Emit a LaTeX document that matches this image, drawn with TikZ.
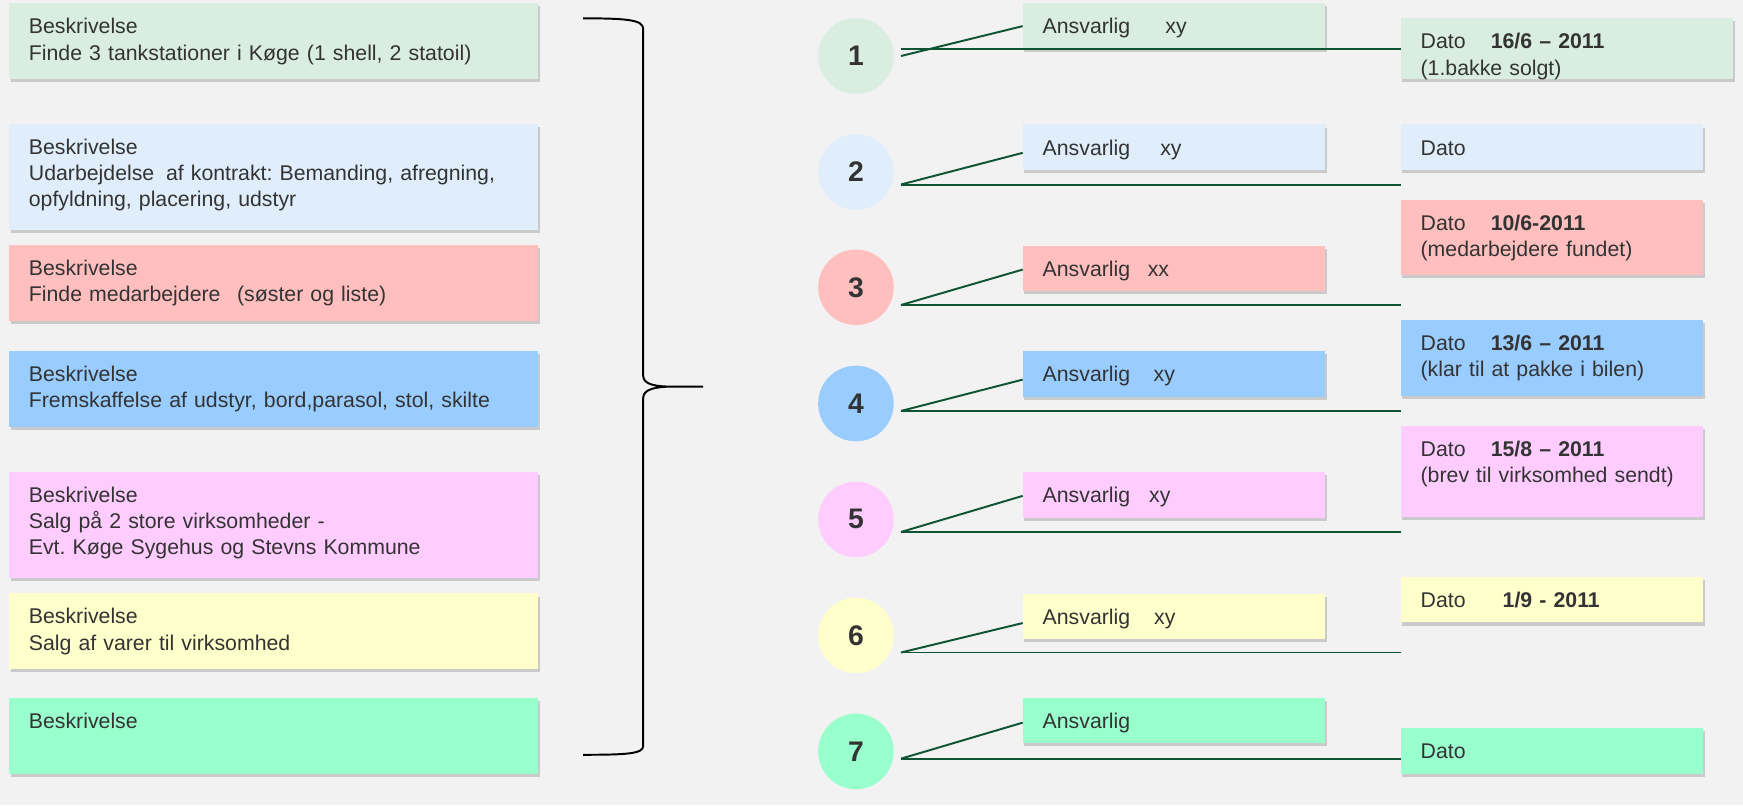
\documentclass[tikz,border=0pt]{standalone}
\usepackage{fontspec}
\setmainfont{Liberation Sans}
\frenchspacing
\usetikzlibrary{calc}
\usetikzlibrary{shadows}

\definecolor{bggray}{HTML}{F2F2F2}
\definecolor{txtgray}{HTML}{333333}
\definecolor{linegreen}{HTML}{0F5535}
\definecolor{cpale}{HTML}{D9EEE1}
\definecolor{cice}{HTML}{E0EEFC}
\definecolor{crose}{HTML}{FFBFBF}
\definecolor{csky}{HTML}{99CCFF}
\definecolor{clilac}{HTML}{FFCCFF}
\definecolor{ccream}{HTML}{FFFFCC}
\definecolor{cmint}{HTML}{99FFCC}

\tikzset{
  card/.style={anchor=north west,fill=#1,outer sep=0pt,inner xsep=0.36cm,inner ysep=0pt,
    align=left,text=txtgray,font=\fontsize{10.9}{13.4}\selectfont,text height=0.55cm,
    drop shadow={shadow xshift=0.9pt,shadow yshift=-1.6pt,opacity=0.35}},
  lcard/.style={card=#1,text width=8.8cm},
  acard/.style={card=#1,text width=4.72cm,text depth=0.27cm},
  dcard/.style={card=#1,text width=4.72cm},
  num/.style={circle,fill=#1,minimum size=1.36cm,inner sep=0pt,text=txtgray,
    font=\fontsize{14.5}{16}\selectfont\bfseries},
  link/.style={draw=linegreen,line width=1pt},
  brace/.style={draw=black,line width=1pt}
}

\begin{document}
\begin{tikzpicture}[x=0.02cm,y=-0.02cm]

  \fill [bggray] (0,0) rectangle (1568,724.2);
  \useasboundingbox (0,0) rectangle (1568,724.2);

  % tasks
  \node [lcard=cpale,text depth=0.81cm] (b1) at (8,3) {Beskrivelse\\Finde 3 tankstationer i Køge (1 shell, 2 statoil)};
  \node [lcard=cice,text depth=1.358cm] (b2) at (8,111.6) {Beskrivelse\\Udarbejdelse\hspace{6pt}af kontrakt: Bemanding, afregning,\\opfyldning, placering, udstyr};
  \node [lcard=crose,text depth=0.818cm] (b3) at (8,220.4) {Beskrivelse\\Finde medarbejdere\hspace{8.5pt}(søster og liste)};
  \node [lcard=csky,text depth=0.81cm] (b4) at (8,315.8) {Beskrivelse\\Fremskaffelse af udstyr, bord,parasol, stol, skilte};
  \node [lcard=clilac,text depth=1.358cm] (b5) at (8,424.3) {Beskrivelse\\Salg på 2 store virksomheder -\\Evt. Køge Sygehus og Stevns Kommune};
  \node [lcard=ccream,text depth=0.804cm] (b6) at (8,533.8) {Beskrivelse\\Salg af varer til virksomhed};
  \node [lcard=cmint,text depth=0.816cm] (b7) at (8,628) {Beskrivelse};

  \draw [brace] (524.6,16.5) .. controls (565,16.5) and (578.6,18) .. (578.6,26)
    -- (578.6,338) .. controls (578.6,346) and (590,347.8) .. (605,347.8) -- (632.6,347.8)
    -- (605,347.8) .. controls (590,347.8) and (578.6,350) .. (578.6,358)
    -- (578.6,671) .. controls (578.6,678) and (565,679) .. (524.6,679);

  % steps
  \node [num=cpale] (c1) at (770,50.4) {1};
  \node [num=cice] (c2) at (770,154.7) {2};
  \node [num=crose] (c3) at (770,258.5) {3};
  \node [num=csky] (c4) at (770,363) {4};
  \node [num=clilac] (c5) at (770,467.2) {5};
  \node [num=ccream] (c6) at (770,571.6) {6};
  \node [num=cmint] (c7) at (770,676) {7};

  \node [acard=cpale] (a1) at (920,3) {Ansvarlig\hspace{18pt}xy};
  \node [acard=cice] (a2) at (920,112) {Ansvarlig\hspace{15.4pt}xy};
  \node [acard=crose] (a3) at (920,221) {Ansvarlig\hspace{9pt}xx};
  \node [acard=csky] (a4) at (920,316) {Ansvarlig\hspace{12pt}xy};
  \node [acard=clilac] (a5) at (920,424.6) {Ansvarlig\hspace{9.7pt}xy};
  \node [acard=ccream] (a6) at (920,534) {Ansvarlig\hspace{12.3pt}xy};
  \node [acard=cmint] (a7) at (920,627.6) {Ansvarlig};

  \node [dcard=cpale,text width=5.26cm,text depth=0.54cm] (d1) at (1260,16.5) {Dato\hspace{12.9pt}\textbf{16/6 – 2011}\\(1.bakke solgt)};
  \node [dcard=cice,text depth=0.27cm] (d2) at (1260,112) {Dato};
  \node [dcard=crose,text depth=0.79cm] (d3) at (1260,180) {Dato\hspace{12.9pt}\textbf{10/6-2011}\\(medarbejdere fundet)};
  \node [dcard=csky,text depth=0.81cm] (d4) at (1260,288) {Dato\hspace{12.9pt}\textbf{13/6 – 2011}\\(klar til at pakke i bilen)};
  \node [dcard=clilac,text depth=1.09cm] (d5) at (1260,383.2) {Dato\hspace{12.9pt}\textbf{15/8 – 2011}\\(brev til virksomhed sendt)};
  \node [dcard=ccream,text depth=0.27cm] (d6) at (1260,519) {Dato\hspace{19pt}\textbf{1/9 - 2011}};
  \node [dcard=cmint,text depth=0.27cm] (d7) at (1260,655.2) {Dato};

  \coordinate (s1) at (810.5,50.4);
  \coordinate (h1) at (810.5,44);
  \coordinate (s2) at (810.5,166);
  \coordinate (s3) at (810.5,274.4);
  \coordinate (s4) at (810.5,369.7);
  \coordinate (s5) at (810.5,478.6);
  \coordinate (s6) at (810.5,587);
  \coordinate (s7) at (810.5,682.5);

  \path [link]
    (s1) edge (a1.west)
    (h1) edge (h1 -| d1.west)
    (s2) edge ([shift={(0,5)}]a2.west)
    (s2) edge (s2 -| d2.west)
    (s3) edge ([shift={(0,1)}]a3.west)
    (s3) edge (s3 -| d3.west)
    (s4) edge ([shift={(0,5)}]a4.west)
    (s4) edge (s4 -| d4.west)
    (s5) edge ([shift={(0,1)}]a5.west)
    (s5) edge (s5 -| d5.west)
    (s6) edge ([shift={(0,6)}]a6.west)
    (s6) edge (s6 -| d6.west)
    (s7) edge ([shift={(0,2)}]a7.west)
    (s7) edge (s7 -| d7.west);

\end{tikzpicture}
\end{document}
